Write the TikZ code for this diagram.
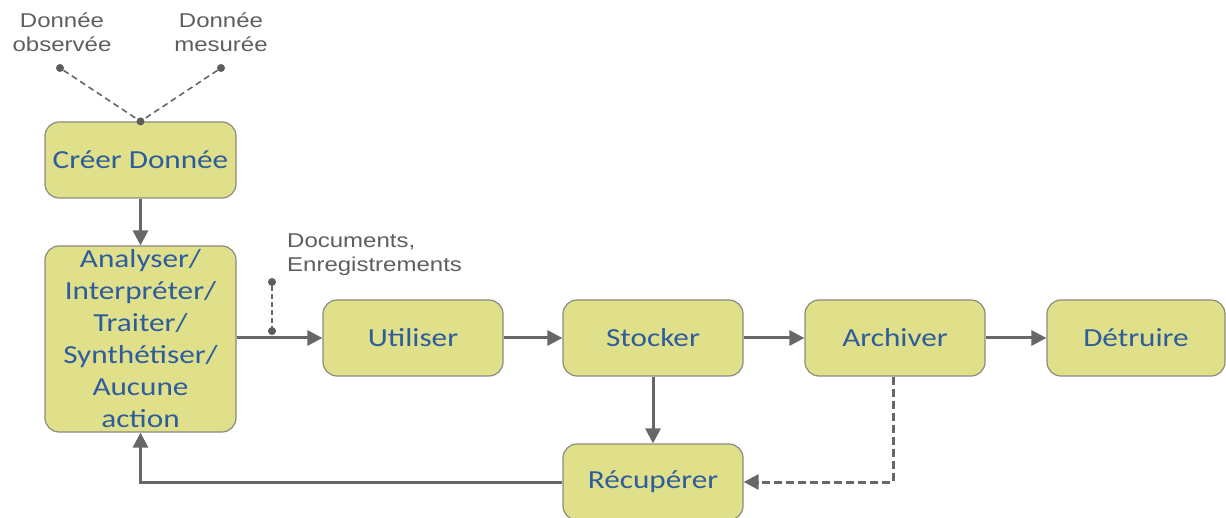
\documentclass[tikz,border=0pt]{standalone}
\usepackage{fontspec}
\usetikzlibrary{arrows.meta,positioning}
\newfontfamily\boxfont[FakeStretch=1.2]{Carlito}
\newfontfamily\labelfont[FakeStretch=1.2]{Liberation Sans}
\definecolor{boxfill}{HTML}{E0E08A}
\definecolor{boxline}{HTML}{8A8A80}
\definecolor{boxtext}{HTML}{2E5C9C}
\definecolor{flow}{HTML}{676767}
\definecolor{labelgray}{HTML}{5E5E5E}
\tikzset{
  stage/.style={draw=boxline, line width=1.2pt, fill=boxfill, rounded corners=14pt,
    minimum width=180pt, minimum height=76pt, inner sep=0pt,
    text=boxtext, font=\boxfont\fontsize{26}{32}\selectfont, align=center},
  flowarrow/.style={draw=flow, line width=3pt, -{Triangle[length=15pt,width=15pt]}},
  dasharrow/.style={draw=flow, line width=3pt, dash pattern=on 8pt off 4pt,
    -{Triangle[length=15pt,width=15pt]}},
  thinline/.style={draw=flow, line width=1.6pt, dash pattern=on 6pt off 4pt},
  dotmark/.style={circle, fill=flow!90!black, inner sep=0pt, minimum size=8pt},
  note/.style={text=labelgray, font=\labelfont\fontsize{20}{24}\selectfont, inner sep=0pt}
}
\begin{document}
\begin{tikzpicture}[x=1pt,y=-1pt]
  \useasboundingbox (0,0) rectangle (1226,518);

  % process stages
  \node[stage, minimum width=191pt] (creer) at (140.5,160) {Créer Donnée};
  \node[stage, minimum width=191pt, minimum height=186pt] (analyser) at (140.5,339)
    {Analyser/\\Interpréter/\\Traiter/\\Synthétiser/\\Aucune\\action};
  \node[stage] (utiliser) at (413,338) {Utiliser};
  \node[stage] (stocker) at (653,338) {Stocker};
  \node[stage] (archiver) at (895,338) {Archiver};
  \node[stage, minimum width=178pt] (detruire) at (1136,338) {Détruire};
  \node[stage] (recuperer) at (653,482) {Récupérer};

  % data sources feeding creation
  \node[note, align=center] (obs) at (62,32) {Donnée\\observée};
  \node[note, align=center] (mes) at (221,32) {Donnée\\mesurée};
  \node[dotmark] (obsdot) at (60,68) {};
  \node[dotmark] (mesdot) at (221,68) {};
  \node[dotmark] (joint) at (creer.north) {};
  \draw[thinline] (obsdot) -- (joint);
  \draw[thinline] (mesdot) -- (joint);

  % documents branch
  \node[note, align=left, anchor=west] (docs) at (287,255) {Documents,\\Enregistrements};
  \node[dotmark] (docdot) at (272,282) {};
  \node[dotmark] (docbase) at (272,331) {};
  \draw[thinline, line width=1.4pt, dash pattern=on 5pt off 3pt] (docdot) -- (docbase);

  % main flow
  \draw[flowarrow] (creer) -- (analyser);
  \draw[flowarrow] (analyser.east |- utiliser) -- (utiliser);
  \draw[flowarrow] (utiliser) -- (stocker);
  \draw[flowarrow] (stocker) -- (archiver);
  \draw[flowarrow] (archiver) -- (detruire);
  \draw[flowarrow] (stocker) -- (recuperer);
  \draw[dasharrow] (archiver.south -| 893,0) |- (recuperer.east);
  \draw[flowarrow] (recuperer.west) -| (analyser.south);
\end{tikzpicture}
\end{document}
